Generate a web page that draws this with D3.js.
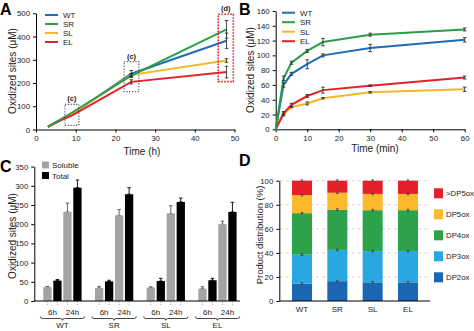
<!DOCTYPE html>
<html><head><meta charset="utf-8">
<script src="https://cdn.jsdelivr.net/npm/d3@7"></script>
<style>
body{margin:0;background:#fff;}
svg{display:block;font-family:"Liberation Sans",Arial,sans-serif;}
</style></head><body>
<svg id="c" width="474" height="331"></svg>
<script>
// ---------- DATA ----------
const seriesNames = ["WT","SR","SL","EL"];
const seriesColors = {WT:"#1f6db6", SR:"#2a9f48", SL:"#f6b626", EL:"#e2212b"};

// Panel A (hours)
const timesA = [3, 6, 9, 24, 48];
const valsA = {
  WT:[11, 38, 65, 240, 382],
  SR:[12, 42, 72, 232, 431],
  SL:[11, 40, 67, 235, 297],
  EL:[11, 38, 60, 205, 247]
};
const errA = {
  WT:[1, 2, 3, 14, 33],
  SR:[1, 2, 3, 8, 38],
  SL:[1, 2, 3, 5, 8],
  EL:[1, 2, 3, 9, 25]
};
const ticksAx = [0,10,20,30,40,50];
const ticksAy = [0,100,200,300,400,500];
// annotation boxes (data units)
const boxesA = [
  {t0:7.3, t1:10.8, v0:18, v1:108, label:"(c)", kind:"grey"},
  {t0:22.2, t1:25.9, v0:163, v1:292, label:"(c)", kind:"grey"},
  {t0:45.9, t1:49.7, v0:206, v1:496, label:"(d)", kind:"red"}
];

// Panel B (minutes)
const timesB = [0, 2.5, 5, 10, 15, 30, 60];
const valsB = {
  WT:[0, 60, 75, 88, 100, 110, 121],
  SR:[0, 69, 90, 106, 118, 128, 135],
  SL:[0, 20, 30, 35, 42, 50, 54],
  EL:[0, 22, 33, 45, 53, 59, 70]
};
const errB = {
  WT:[0, 3, 2, 6, 2, 5, 3],
  SR:[0, 3, 2, 2, 5, 2, 2],
  SL:[0, 2, 1, 2, 1, 1, 3],
  EL:[0, 2, 2, 2, 4, 1, 2]
};
const ticksBx = [0,10,20,30,40,50,60];
const ticksBy = [0,20,40,60,80,100,120,140,160];

// Panel C (bars)
const groupsC = ["WT","SR","SL","EL"];
const barKeysC = ["s6","t6","s24","t24"];
const solubleC6  = [36, 34, 35, 32];
const totalC6    = [53, 51, 52, 54];
const solubleC24 = [232, 223, 228, 200];
const totalC24   = [295, 278, 258, 232];
const errSol6  = [2, 4, 2, 5];
const errTot6  = [3, 3, 7, 5];
const errSol24 = [23, 15, 20, 8];
const errTot24 = [20, 17, 10, 25];
const ticksCy = [0,50,100,150,200,250,300,350];

// Panel D (stacked %)
const groupsD = ["WT","SR","SL","EL"];
const fracNames = ["DP2ox","DP3ox","DP4ox","DP5ox",">DP5ox"];
const fracColors = {"DP2ox":"#1a66b3","DP3ox":"#2aa7e1","DP4ox":"#2ca24a","DP5ox":"#fbb92b",">DP5ox":"#e51f2a"};
const DP2 = [14.5, 16.5, 15.5, 15.5];
const DP3 = [24, 26, 26, 26];
const DP4 = [34.5, 33.5, 34, 34];
const DP5 = [15, 14, 13.5, 13.5];
const DP6 = [12, 10, 11, 11];
const ticksDy = [0,20,40,60,80,100];

// ---------- DRAW ----------
const svg = d3.select("#c");
const tickFont = 7.8, labFont = 10;

function styleAxis(g){
  g.selectAll("path.domain").attr("stroke","#000").attr("stroke-width",1);
  g.selectAll(".tick line").attr("stroke","#000");
  g.selectAll(".tick text").attr("font-size",tickFont).attr("fill","#222").attr("font-family","Liberation Sans, Arial, sans-serif");
}
function panelLetter(t,x,y){
  svg.append("text").attr("x",x).attr("y",y).text(t).attr("font-size",16).attr("font-weight","bold").attr("fill","#000");
}
function yLabel(t,x,y,fs){
  svg.append("text").attr("transform",`translate(${x},${y}) rotate(-90)`).attr("text-anchor","middle")
    .attr("font-size",fs||labFont).attr("fill","#222").text(t);
}
function errBar(g,x,y0,y1,w,col){
  g.append("line").attr("x1",x).attr("x2",x).attr("y1",y0).attr("y2",y1).attr("stroke",col).attr("stroke-width",0.9);
  g.append("line").attr("x1",x-w).attr("x2",x+w).attr("y1",y0).attr("y2",y0).attr("stroke",col).attr("stroke-width",0.9);
  g.append("line").attr("x1",x-w).attr("x2",x+w).attr("y1",y1).attr("y2",y1).attr("stroke",col).attr("stroke-width",0.9);
}
function lineLegend(x,y,dy){
  seriesNames.forEach((s,i)=>{
    svg.append("line").attr("x1",x).attr("x2",x+13).attr("y1",y+i*dy).attr("y2",y+i*dy)
      .attr("stroke",seriesColors[s]).attr("stroke-width",2);
    svg.append("text").attr("x",x+18).attr("y",y+i*dy+3).attr("font-size",8).attr("fill","#222").text(s);
  });
}

// ----- Panel A -----
{
  const x = d3.scaleLinear().domain([0,50]).range([36,234.5]);
  const y = d3.scaleLinear().domain([0,500]).range([129.5,13.3]);
  const gx = svg.append("g").attr("transform","translate(0,129.5)")
    .call(d3.axisBottom(x).tickValues(ticksAx).tickSize(3).tickSizeOuter(0));
  styleAxis(gx);
  const gy = svg.append("g").attr("transform","translate(36,0)")
    .call(d3.axisLeft(y).tickValues(ticksAy).tickSize(3).tickSizeOuter(0));
  styleAxis(gy);
  const g = svg.append("g");
  const order = ["WT","SL","EL","SR"];
  order.forEach(s=>{
    const pts = timesA.map((t,i)=>[t,valsA[s][i]]);
    g.append("path").datum(pts).attr("fill","none").attr("stroke",seriesColors[s]).attr("stroke-width",2)
      .attr("d",d3.line().x(d=>x(d[0])).y(d=>y(d[1])));
  });
  order.forEach(s=>{
    timesA.forEach((t,i)=>{
      if(i<3) return;
      errBar(g,x(t),y(valsA[s][i]+errA[s][i]),y(valsA[s][i]-errA[s][i]),1.8,"#333");
    });
  });
  boxesA.forEach(b=>{
    const col = b.kind==="red" ? "#e2212b" : "#555";
    g.append("rect").attr("x",x(b.t0)).attr("y",y(b.v1)).attr("width",x(b.t1)-x(b.t0)).attr("height",y(b.v0)-y(b.v1))
      .attr("fill","none").attr("stroke",col).attr("stroke-width",b.kind==="red"?1.6:1.2)
      .attr("stroke-dasharray",b.kind==="red"?"1.6,1.4":"1.2,1.6");
    g.append("text").attr("x",(x(b.t0)+x(b.t1))/2).attr("y",y(b.v1)-3).attr("text-anchor","middle")
      .attr("font-size",7.5).attr("font-weight","bold").attr("fill","#222").text(b.label);
  });
  lineLegend(45,15,9);
  yLabel("Oxidized sites (μM)",16,71);
  svg.append("text").attr("x",142).attr("y",155).attr("text-anchor","middle").attr("font-size",labFont).attr("fill","#222").text("Time (h)");
  panelLetter("A",0,15);
}

// ----- Panel B -----
{
  const x = d3.scaleLinear().domain([0,60]).range([275.7,464.7]);
  const y = d3.scaleLinear().domain([0,160]).range([129.3,11]);
  const gx = svg.append("g").attr("transform","translate(0,129.3)")
    .call(d3.axisBottom(x).tickValues(ticksBx).tickSize(3).tickSizeOuter(0));
  styleAxis(gx);
  const gy = svg.append("g").attr("transform","translate(275.7,0)")
    .call(d3.axisLeft(y).tickValues(ticksBy).tickSize(3).tickSizeOuter(0));
  styleAxis(gy);
  const g = svg.append("g");
  const order = ["SL","EL","WT","SR"];
  order.forEach(s=>{
    const pts = timesB.map((t,i)=>[t,valsB[s][i]]);
    g.append("path").datum(pts).attr("fill","none").attr("stroke",seriesColors[s]).attr("stroke-width",2)
      .attr("d",d3.line().x(d=>x(d[0])).y(d=>y(d[1])));
  });
  order.forEach(s=>{
    timesB.forEach((t,i)=>{
      if(i===0) return;
      errBar(g,x(t),y(valsB[s][i]+errB[s][i]),y(valsB[s][i]-errB[s][i]),1.8,"#333");
    });
  });
  lineLegend(282,12.7,9.5);
  yLabel("Oxidized sites (μM)",254,70);
  svg.append("text").attr("x",375).attr("y",152).attr("text-anchor","middle").attr("font-size",labFont).attr("fill","#222").text("Time (min)");
  panelLetter("B",239,15);
}

// ----- Panel C -----
{
  const y = d3.scaleLinear().domain([0,350]).range([301,166.6]);
  const gxs = d3.scaleBand().domain(groupsC).range([43.3,236.6]).paddingInner(0.259).paddingOuter(0);
  const inner = d3.scaleBand().domain(barKeysC).range([0,gxs.bandwidth()]).paddingInner(0.17);
  const gy = svg.append("g").attr("transform","translate(34.3,0)")
    .call(d3.axisLeft(y).tickValues(ticksCy).tickSize(3).tickSizeOuter(0));
  styleAxis(gy);
  const g = svg.append("g");
  const vals = {s6:solubleC6, t6:totalC6, s24:solubleC24, t24:totalC24};
  const errs = {s6:errSol6, t6:errTot6, s24:errSol24, t24:errTot24};
  groupsC.forEach((grp,gi)=>{
    barKeysC.forEach(k=>{
      const bx = gxs(grp)+inner(k);
      const v = vals[k][gi];
      const col = k[0]==="s" ? "#a3a3a3" : "#000";
      const cx = bx+inner.bandwidth()/2;
      errBar(g,cx,y(v+errs[k][gi]),y(v),1.8,k[0]==="s"?"#555":"#000");
      g.append("rect").attr("x",bx).attr("y",y(v)).attr("width",inner.bandwidth()).attr("height",y(0)-y(v)).attr("fill",col);
      g.append("line").attr("x1",cx).attr("x2",cx).attr("y1",302).attr("y2",305).attr("stroke","#999").attr("stroke-width",0.8).attr("stroke-dasharray","1,1");
    });
    const x0 = gxs(grp), x1 = gxs(grp)+gxs.bandwidth();
    const c6 = x0 + (inner("s6")+inner("t6")+inner.bandwidth())/2;
    const c24 = x0 + (inner("s24")+inner("t24")+inner.bandwidth())/2;
    g.append("text").attr("x",c6).attr("y",315).attr("text-anchor","middle").attr("font-size",8).attr("fill","#222").text("6h");
    g.append("text").attr("x",c24).attr("y",315).attr("text-anchor","middle").attr("font-size",8).attr("fill","#222").text("24h");
    const bx0 = x0-3, bx1 = x1+3, mid=(bx0+bx1)/2, by=318.5;
    g.append("path").attr("fill","none").attr("stroke","#333").attr("stroke-width",0.9)
      .attr("d",`M${bx0},${by-2} Q${bx0},${by} ${bx0+2},${by} L${mid-2},${by} Q${mid},${by} ${mid},${by+1.8} Q${mid},${by} ${mid+2},${by} L${bx1-2},${by} Q${bx1},${by} ${bx1},${by-2}`);
    g.append("text").attr("x",mid).attr("y",328).attr("text-anchor","middle").attr("font-size",8).attr("fill","#222").text(grp);
  });
  svg.append("line").attr("x1",34.3).attr("x2",240).attr("y1",301).attr("y2",301).attr("stroke","#000");
  [["Soluble","#a3a3a3",165],["Total","#000",175.5]].forEach(d=>{
    svg.append("rect").attr("x",42).attr("y",d[2]-3.5).attr("width",7).attr("height",7).attr("fill",d[1]);
    svg.append("text").attr("x",52).attr("y",d[2]+3).attr("font-size",8).attr("fill","#222").text(d[0]);
  });
  yLabel("Oxidized sites (μM)",16,236);
  panelLetter("C",0,172);
}

// ----- Panel D -----
{
  const y = d3.scaleLinear().domain([0,100]).range([301,180.7]);
  const x = d3.scaleBand().domain(groupsD).range([292,418]).paddingInner(0.433).paddingOuter(0);
  const g = svg.append("g");
  ticksDy.slice(1).forEach(t=>{
    g.append("line").attr("x1",280).attr("x2",430).attr("y1",y(t)).attr("y2",y(t))
      .attr("stroke","#ccc").attr("stroke-width",0.8).attr("stroke-dasharray","3,3");
  });
  const gy = svg.append("g").attr("transform","translate(279.3,0)")
    .call(d3.axisLeft(y).tickValues(ticksDy).tickSize(3).tickSizeOuter(0));
  styleAxis(gy);
  const rows = groupsD.map((grp,i)=>({grp, "DP2ox":DP2[i], "DP3ox":DP3[i], "DP4ox":DP4[i], "DP5ox":DP5[i], ">DP5ox":DP6[i]}));
  const stack = d3.stack().keys(fracNames)(rows);
  stack.forEach(layer=>{
    layer.forEach(d=>{
      g.append("rect").attr("x",x(d.data.grp)).attr("y",y(d[1])).attr("width",x.bandwidth()).attr("height",y(d[0])-y(d[1]))
        .attr("fill",fracColors[layer.key]);
    });
  });
  stack.forEach(layer=>{
    layer.forEach(d=>{
      const cx = x(d.data.grp)+x.bandwidth()/2;
      errBar(g,cx,y(d[1])-0.8,y(d[1])+0.8,1.2,"#444");
    });
  });
  svg.append("line").attr("x1",279.3).attr("x2",430).attr("y1",301).attr("y2",301).attr("stroke","#000");
  groupsD.forEach(grp=>{
    svg.append("text").attr("x",x(grp)+x.bandwidth()/2).attr("y",312).attr("text-anchor","middle").attr("font-size",8).attr("fill","#222").text(grp);
  });
  const legOrder = fracNames.slice().reverse();
  legOrder.forEach((n,i)=>{
    const cy = 193.3 + i*21;
    svg.append("rect").attr("x",434).attr("y",cy-5).attr("width",9).attr("height",10).attr("fill",fracColors[n]);
    svg.append("text").attr("x",446).attr("y",cy+3).attr("font-size",7.8).attr("fill","#222").text(n);
  });
  yLabel("Product distribution (%)",263,235,9.5);
  panelLetter("D",239,166);
}
</script>
</body></html>
